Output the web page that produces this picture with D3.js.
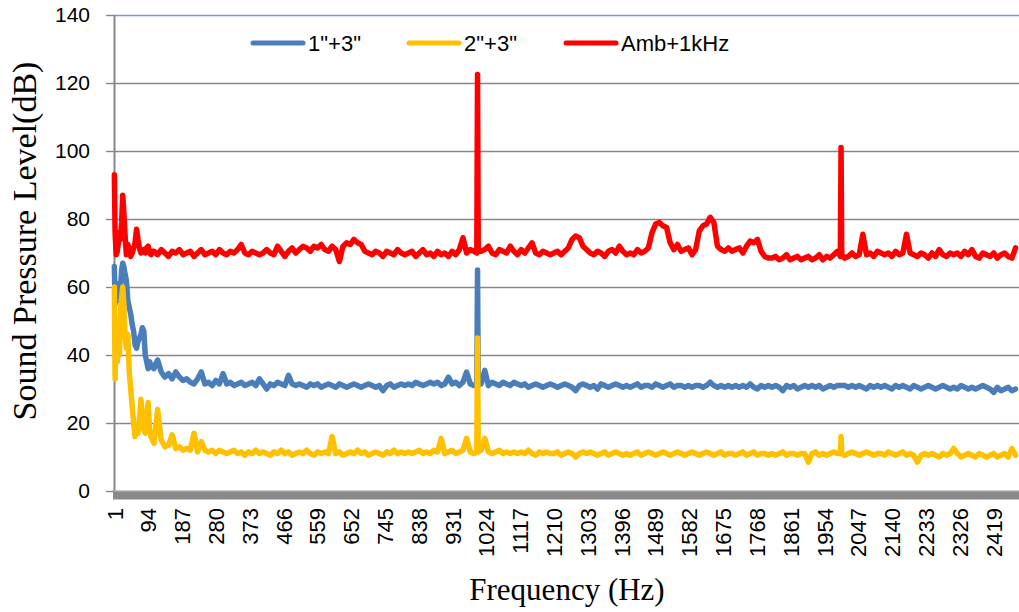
<!DOCTYPE html>
<html>
<head>
<meta charset="utf-8">
<script src="https://cdn.jsdelivr.net/npm/d3@7"></script>
<style>
  body { margin: 0; background: #fff; }
  svg { display: block; }
  text { font-family: 'Liberation Sans', Arial, sans-serif; fill: #000; }
</style>
</head>
<body>
<div id="chart"></div>
<script>
// ---- data ----
const seriesNames = ['1"+3"', '2"+3"', 'Amb+1kHz']
const seriesColours = ['#4a7ebb', '#ffc000', '#ff0000']

const yTicks = [0, 20, 40, 60, 80, 100, 120, 140]
const xTickLabels = [1, 94, 187, 280, 373, 466, 559, 652, 745, 838, 931, 1024, 1117, 1210,
    1303, 1396, 1489, 1582, 1675, 1768, 1861, 1954, 2047, 2140, 2233, 2326, 2419]

// low end, finer steps (Hz)
const lowFreqs = [1, 3, 6, 9, 12, 15, 18, 21, 24, 27, 30, 34, 38, 42, 46, 50, 54, 58, 62, 66,
    70, 74, 78, 82, 86, 90, 94, 98, 102, 106]
const blueLow = [66, 55, 58, 61, 59, 56, 60, 65, 67, 66, 64, 62, 56, 54, 52, 49, 47, 43, 42, 44,
    45, 46, 48, 47, 40, 38, 36, 38, 36.5, 37]
const yellowLow = [60, 33, 48, 38, 50, 40, 53, 57, 60, 55, 46, 42, 46, 35, 30, 25, 20, 16, 19, 17,
    21, 27, 22, 18, 17, 22, 26, 18, 16, 15]
const redLow = [93, 76, 69.5, 70.5, 73, 76, 74, 79, 87, 82, 76, 69.5, 72.5, 71, 69, 70, 71.5, 73, 77, 74,
    71.5, 70, 70.5, 71, 70, 71.5, 72, 70, 69.5, 70.5]

// 110 Hz .. 2480 Hz, every 10 Hz
const gridStart = 110
const gridStep = 10
const blueMain = [
    36, 38.5, 35, 33.5, 34.5, 33, 35, 33.5, 32.5, 33,
    32, 31.5, 33, 35, 31.5, 32, 31, 32.5, 31.5, 34.5,
    31.5, 32, 31, 31.5, 32, 31, 31.5, 32, 31, 33,
    31.5, 30, 31.5, 31, 32, 31.5, 31, 34, 31.5, 31,
    31.5, 31, 30.5, 31.5, 31, 31.5, 30.5, 31, 31.5, 31,
    30.5, 31.5, 31, 30.5, 31, 31.5, 31, 30.5, 31, 31.5,
    31, 30.5, 31, 29.5, 31, 31.5, 30.5, 31, 31.5, 31,
    31.5, 31, 32, 31.5, 31, 31.5, 32, 31.5, 32, 31,
    31.5, 33.5, 31.5, 32, 31, 32, 35, 31.5, 31, 31,
    31.5, 35.5, 31, 32, 31.5, 31, 32, 31.5, 31, 32,
    31.5, 31, 31.5, 30.5, 31, 31.5, 31, 30.5, 31, 31.5,
    31, 30.5, 31, 31.5, 31, 30.5, 29.5, 31, 31.5, 31,
    30.5, 31, 30, 31.5, 31, 30.5, 31, 31.5, 31, 30.5,
    31, 30.5, 31, 31.5, 30.5, 31, 31, 30.5, 31.5, 31,
    30.5, 31, 31.5, 30.5, 31, 31, 30.5, 31, 30.5, 31,
    31, 30.5, 31, 32, 31, 30.5, 31, 30.5, 31, 30.5,
    31, 30.5, 31, 30.5, 31.5, 30.5, 30, 31, 30.5, 31,
    30.5, 31, 30.5, 29.5, 31, 30.5, 31, 30, 30.5, 31,
    30.5, 31, 30.5, 31, 30, 30.5, 31, 30.5, 31, 31,
    31, 30.5, 31, 30.5, 31, 30.5, 30, 31, 30.5, 31,
    30.5, 31, 30.5, 30, 31, 30.5, 31, 30.5, 30, 31,
    30.5, 30, 30.5, 31, 30.5, 30, 30.5, 31, 30.5, 30,
    30.5, 30, 31, 30.5, 30, 30.5, 30, 30.5, 31, 30.5,
    30, 29, 30.5, 29.5, 30, 30.5, 29.5, 30
]
const yellowMain = [
    14, 24, 15, 13, 13.5, 16.5, 12.5, 13, 12, 12.5,
    12, 17, 11.5, 14.5, 12, 11.5, 12, 11, 12, 11.5,
    11, 11.5, 12, 11, 11.5, 10.5, 11.5, 11, 12, 11,
    11.5, 11, 10.5, 11.5, 11, 12, 11, 11.5, 10.5, 11,
    11.5, 11, 12, 11, 10.5, 11.5, 11, 11.5, 11, 16,
    11, 11.5, 10.5, 11, 11.5, 11, 12, 11, 11.5, 10.5,
    11, 11.5, 11, 10.5, 11.5, 11, 12, 11, 11.5, 11,
    11.5, 11, 11.5, 12, 11, 11.5, 11, 12, 11.5, 15.5,
    11, 11.5, 12, 11, 11.5, 12, 15.5, 11.5, 11, 11.5,
    12, 15.5, 11.5, 11, 11.5, 12, 11, 11.5, 11, 11.5,
    11, 11.5, 11, 12, 11, 10.5, 11.5, 11, 11.5, 11,
    11, 11.5, 10.5, 11, 11.5, 11, 10, 11, 11.5, 11,
    11.5, 11, 10.5, 11, 11.5, 10.5, 11, 11.5, 11, 10.5,
    11, 10.5, 11, 11.5, 10.5, 11, 11.5, 11, 10.5, 11,
    11.5, 11, 10.5, 11, 11.5, 11, 10.5, 11, 11.5, 11,
    10.5, 11, 11.5, 11, 10.5, 11, 11.5, 10.5, 11, 11,
    10.5, 11, 11.5, 10.5, 11, 11.5, 10.5, 11, 11, 10.5,
    11, 10.5, 11, 11.5, 10.5, 11, 11, 10.5, 11, 11,
    8.5, 11, 11.5, 10.5, 11, 10.5, 11, 11.5, 11, 11,
    10.5, 11, 11.5, 11, 10.5, 11, 11.5, 11, 10.5, 11,
    11, 10.5, 11.5, 11, 10.5, 11, 11.5, 10.5, 11, 10.5,
    8.5, 10.5, 11, 10.5, 11, 10.5, 10, 11, 10.5, 11,
    12.5, 11, 10, 10.5, 11, 10.5, 10, 11, 10.5, 10,
    10.5, 11, 10, 10.5, 11, 10, 12.5, 10.5
]
const redMain = [
    70.5, 69.5, 71, 70, 69, 70.5, 70, 71, 69.5, 70,
    70.5, 69, 70, 71, 69.5, 70, 70.5, 69.5, 71, 70,
    69.5, 70.5, 70, 71, 72.5, 70, 69.5, 70.5, 70, 69.5,
    70, 71, 70, 69.5, 72, 70.5, 69, 70.5, 71.5, 70,
    71, 72, 71.5, 70.5, 72, 71.5, 72.5, 71, 70.5, 72,
    71, 67.5, 72, 73, 72.5, 74, 73, 72.5, 70.5, 70,
    69.5, 70.5, 70, 69, 70.5, 70, 69.5, 71, 70, 69.5,
    70, 70.5, 69, 70, 71, 69.5, 70, 69, 70.5, 69.5,
    70, 69, 70.5, 69.5, 71, 74.5, 70, 71, 70.5, 70,
    70.5, 71, 72, 70, 69.5, 71, 70.5, 70, 72, 70.5,
    69.5, 71, 70, 71.5, 73, 70, 69.5, 70.5, 70, 69.5,
    70, 70.5, 69.5, 70.5, 71.5, 74, 75, 74.5, 72, 71,
    70, 69.5, 70.5, 70, 69, 70.5, 71, 70, 72, 70.5,
    69.5, 70, 69.5, 71, 70, 70.5, 71.5, 76, 78.5, 79,
    78, 77.5, 73, 71, 72.5, 70.5, 71, 71.5, 69.5, 71,
    76.5, 78, 78.5, 80.5, 79, 72, 71, 70.5, 71.5, 70.5,
    71, 71.5, 70, 72, 73.5, 73, 74, 70.5, 69, 68.5,
    68.5, 69, 68, 68.5, 69.5, 68, 68.5, 69, 68, 68.5,
    69, 68, 68.5, 69.5, 68, 69, 68.5, 69.5, 70.5, 69,
    68.5, 69, 70, 69, 69.5, 75.5, 69.5, 70, 69, 70.5,
    70, 69.5, 70, 69, 70.5, 69.5, 70, 75.5, 70, 69.5,
    69, 70, 69.5, 68.5, 70, 69, 71, 69.5, 69, 70,
    69.5, 70, 69, 70.5, 69.5, 71, 69, 68.5, 70, 69.5,
    69, 70, 68.5, 69.5, 70, 69, 68.5, 71.5
]

// narrow tones [Hz, dB]
const blueSpikes = [[998, 31], [1000, 65], [1002, 31.5]]
const yellowSpikes = [[998, 11.5], [1000, 45], [1002, 11.5], [1998, 11], [2000, 16], [2002, 11]]
const redSpikes = [[998, 70], [1000, 122.5], [1002, 70.5], [1998, 69], [2000, 101], [2002, 69.5]]

// ---- chart ----
const WIDTH = 1019
const HEIGHT = 612

const buildSeries = (low, main, spikes) => {
    const m = new Map()
    lowFreqs.forEach((f, i) => m.set(f, low[i]))
    main.forEach((v, i) => m.set(gridStart + i * gridStep, v))
    spikes.forEach(([f, v]) => m.set(f, v))
    return Array.from(m, ([f, v]) => ({ f, v })).sort((a, b) => a.f - b.f)
}

const series = [
    buildSeries(blueLow, blueMain, blueSpikes),
    buildSeries(yellowLow, yellowMain, yellowSpikes),
    buildSeries(redLow, redMain, redSpikes)
]

const svg = d3.select('#chart')
    .append('svg')
    .attr('width', WIDTH)
    .attr('height', HEIGHT)

const xScale = d3.scaleLinear().domain([0, 2484]).range([114, 1017])
const yScale = d3.scaleLinear().domain([0, 140]).range([491, 15])

// gridlines
const grid = svg.append('g')
    .attr('transform', 'translate(114, 0)')
    .call(d3.axisLeft(yScale).tickValues(yTicks).tickSize(-(WIDTH - 114)).tickFormat(''))
grid.select('.domain').remove()
grid.selectAll('line')
    .attr('stroke', d => d === 140 ? '#7a98c8' : '#878787')
    .attr('stroke-width', 1.4)

// y axis
const yAxis = svg.append('g')
    .attr('transform', 'translate(114, 0)')
    .call(d3.axisLeft(yScale).tickValues(yTicks).tickSize(8).tickPadding(16).tickSizeOuter(0))
yAxis.select('.domain').attr('stroke', '#878787').attr('stroke-width', 2)
yAxis.selectAll('line').attr('stroke', '#878787').attr('stroke-width', 1.4)
yAxis.selectAll('text').style('font-size', '21px')

// x axis band
svg.append('rect')
    .attr('x', 113)
    .attr('y', 491.5)
    .attr('width', WIDTH - 113)
    .attr('height', 8)
    .attr('fill', '#898989')
svg.append('line')
    .attr('x1', 114).attr('x2', WIDTH)
    .attr('y1', 491).attr('y2', 491)
    .attr('stroke', '#a9b6ca')
    .attr('stroke-width', 1)

const xAxis = svg.append('g')
    .attr('transform', 'translate(0, 500)')
    .call(d3.axisBottom(xScale).tickValues(xTickLabels).tickSize(0).tickFormat(d3.format('d')))
xAxis.select('.domain').remove()
xAxis.selectAll('text')
    .attr('transform', 'rotate(-90)')
    .attr('x', -8)
    .attr('y', 0)
    .attr('dy', '0.35em')
    .style('text-anchor', 'end')
    .style('font-size', '22px')

// lines
const line = d3.line()
    .x(d => xScale(d.f))
    .y(d => yScale(d.v))

svg.append('g')
    .selectAll('path')
    .data(series)
    .join('path')
    .attr('d', line)
    .attr('fill', 'none')
    .attr('stroke', (d, i) => seriesColours[i])
    .attr('stroke-width', 5.5)
    .attr('stroke-linejoin', 'round')
    .attr('stroke-linecap', 'round')

// legend
const legendX = [253, 409, 566]
const legend = svg.append('g')
    .selectAll('g')
    .data(seriesNames)
    .join('g')
    .attr('transform', (d, i) => `translate(${legendX[i]}, 43)`)
legend.append('line')
    .attr('x1', 0).attr('x2', 50)
    .attr('stroke', (d, i) => seriesColours[i])
    .attr('stroke-width', 5)
    .attr('stroke-linecap', 'round')
legend.append('text')
    .attr('x', 55)
    .attr('y', 8)
    .style('font-size', '22px')
    .text(d => d)

// titles
svg.append('text')
    .attr('transform', 'translate(36, 241) rotate(-90)')
    .attr('text-anchor', 'middle')
    .style('font-family', "'Liberation Serif', 'Times New Roman', serif")
    .style('font-size', '34px')
    .text('Sound Pressure Level(dB)')

svg.append('text')
    .attr('x', 567)
    .attr('y', 600)
    .attr('text-anchor', 'middle')
    .style('font-family', "'Liberation Serif', 'Times New Roman', serif")
    .style('font-size', '31px')
    .text('Frequency (Hz)')
</script>
</body>
</html>
